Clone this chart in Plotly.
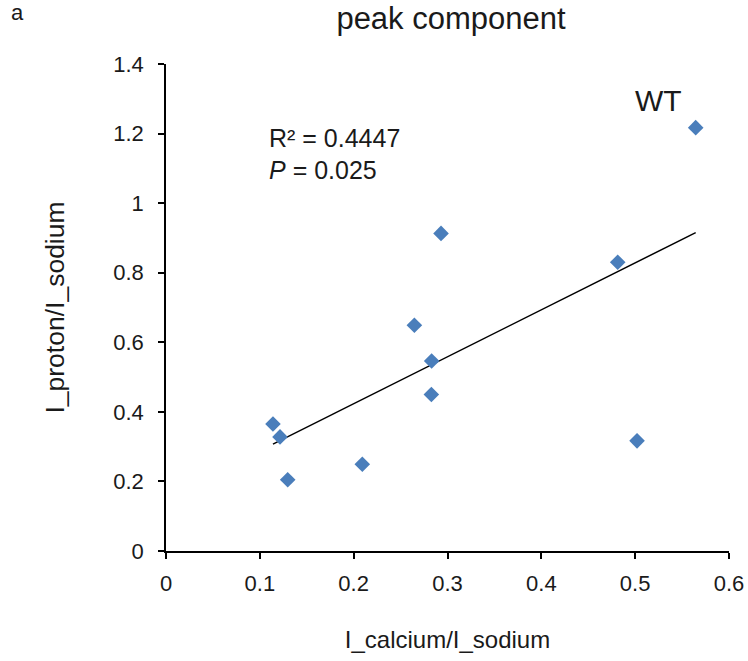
import numpy as np
import plotly.graph_objects as go

x_calcium = [0.5645, 0.4814, 0.2931, 0.2647, 0.2831, 0.2828, 0.1140, 0.1215, 0.1297, 0.2092, 0.5020]
y_proton = [1.217, 0.830, 0.913, 0.649, 0.546, 0.450, 0.365, 0.328, 0.205, 0.2495, 0.3166]
x_ticks = [0, 0.1, 0.2, 0.3, 0.4, 0.5, 0.6]
x_tick_labels = ["0", "0.1", "0.2", "0.3", "0.4", "0.5", "0.6"]
y_ticks = [0, 0.2, 0.4, 0.6, 0.8, 1.0, 1.2, 1.4]
y_tick_labels = ["0", "0.2", "0.4", "0.6", "0.8", "1", "1.2", "1.4"]

slope, intercept = np.polyfit(x_calcium, y_proton, 1)
x_fit = [min(x_calcium), max(x_calcium)]
y_fit = [slope * v + intercept for v in x_fit]

FONT = "Liberation Sans, Arial, sans-serif"
TXT = "#1a1a1a"

W, H = 748, 661
L, T = 166, 64
PW, PH = 563, 487

fig = go.Figure()
fig.add_trace(go.Scatter(x=x_fit, y=y_fit, mode="lines",
                         line=dict(color="black", width=1.5), showlegend=False, hoverinfo="skip"))
fig.add_trace(go.Scatter(x=x_calcium, y=y_proton, mode="markers",
                         marker=dict(symbol="diamond", size=12, color="#4a7ebb"),
                         showlegend=False))

fig.update_layout(
    width=W, height=H,
    margin=dict(l=L, r=W - L - PW, t=T, b=H - T - PH, autoexpand=False),
    plot_bgcolor="white", paper_bgcolor="white",
    font=dict(family=FONT, size=22, color=TXT),
    title=dict(text="peak component", x=451 / W, xanchor="center", xref="container",
               y=1 - 18 / H, yanchor="middle", yref="container", automargin=False,
               font=dict(size=31, family=FONT, color=TXT)),
    xaxis=dict(range=[0, 0.6], tickvals=x_ticks, ticktext=x_tick_labels, automargin=False,
               showgrid=False, zeroline=False, showline=True, linecolor="black", linewidth=1.5,
               ticks="outside", ticklen=6, tickcolor="black", tickwidth=1.5,
               ticklabelstandoff=6,
               tickfont=dict(size=22, family=FONT, color=TXT),
               title=dict(text="I_calcium/I_sodium", standoff=36, font=dict(size=24, family=FONT, color=TXT))),
    yaxis=dict(range=[0, 1.4], tickvals=y_ticks, ticktext=y_tick_labels, automargin=False,
               showgrid=False, zeroline=False, showline=True, linecolor="black", linewidth=1.5,
               ticks="outside", ticklen=6, tickcolor="black", tickwidth=1.5,
               ticklabelstandoff=10,
               tickfont=dict(size=22, family=FONT, color=TXT),
               title=dict(text="I_proton/I_sodium", standoff=41, font=dict(size=26.5, family=FONT, color=TXT))),
)

def px_x(page_x):
    return (page_x - L) / PW

def px_y(page_y):
    return (T + PH - page_y) / PH

fig.add_annotation(text="a", xref="paper", yref="paper", x=px_x(9), y=px_y(13),
                   xanchor="left", yanchor="middle", showarrow=False,
                   font=dict(size=22, family=FONT, color=TXT))
fig.add_annotation(text="R² = 0.4447", xref="paper", yref="paper", x=px_x(267), y=px_y(138),
                   xanchor="left", yanchor="middle", showarrow=False,
                   font=dict(size=25, family=FONT, color=TXT))
fig.add_annotation(text="<i>P</i> = 0.025", xref="paper", yref="paper", x=px_x(267), y=px_y(170),
                   xanchor="left", yanchor="middle", showarrow=False,
                   font=dict(size=25, family=FONT, color=TXT))
fig.add_annotation(text="WT", xref="paper", yref="paper", x=px_x(658), y=px_y(101),
                   xanchor="center", yanchor="middle", showarrow=False,
                   font=dict(size=30, family=FONT, color=TXT))

fig.write_html(
    "out.html",
    config={"displayModeBar": False},
    post_script="document.body.style.margin='0';document.documentElement.style.overflow='hidden';",
)
